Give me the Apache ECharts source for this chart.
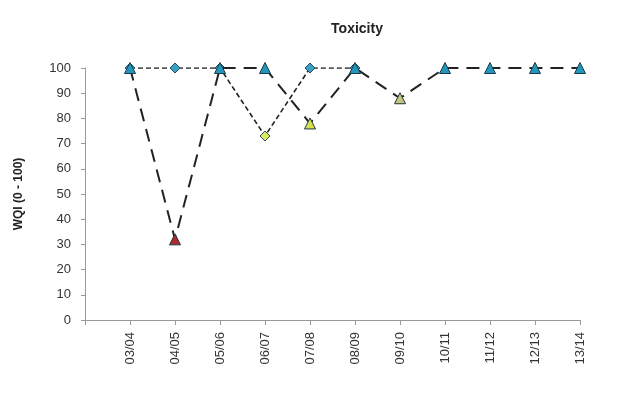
<!DOCTYPE html>
<html><head><meta charset="utf-8">
<script src="https://cdn.jsdelivr.net/npm/echarts@6/dist/echarts.min.js"></script>
<style>html,body{margin:0;padding:0;background:#fff}#c{width:637px;height:402px}</style>
</head><body><div id="c"></div>
<script>
const categories = ['03/04','04/05','05/06','06/07','07/08','08/09','09/10','10/11','11/12','12/13','13/14'];
const diamondValues = [100, 100, 100, 73, 100, 100, null, null, null, null, null];
const diamondColors = ['#3aa0c4','#3aa0c4','#3aa0c4','#dde85a','#3aa0c4','#3aa0c4',null,null,null,null,null];
const triangleValues = [100, 32, 100, 100, 78, 100, 88, 100, 100, 100, 100];
const triangleColors = ['#2596bb','#b02a2a','#2596bb','#2596bb','#d6e04e','#2596bb','#c6c67a','#2596bb','#2596bb','#2596bb','#2596bb'];
const yTicks = [0,10,20,30,40,50,60,70,80,90,100];

function pts(vals, cols){
  return vals.map((v,i)=> v==null ? null : {value:[i+1, v], itemStyle:{color:cols[i]}}).filter(d=>d);
}
const chart = echarts.init(document.getElementById('c'));
chart.setOption({
  animation:false,
  title:{text:'Toxicity', left:352, top:17, textAlign:'center',
    textStyle:{fontFamily:'Liberation Sans, Arial', fontSize:14, fontWeight:'bold', color:'#222'}},
  grid:{left:85, right:57, top:68, bottom:82},
  xAxis:{type:'value', min:0, max:11, interval:1,
    axisLine:{lineStyle:{color:'#999'}}, axisTick:{show:true, length:5, lineStyle:{color:'#999'}},
    splitLine:{show:false},
    axisLabel:{rotate:90, margin:12, fontFamily:'Liberation Sans', fontSize:13, color:'#333',
      formatter:v=> categories[v-1] || ''}},
  yAxis:{type:'value', min:0, max:100, interval:10,
    name:'WQI (0 - 100)', nameLocation:'middle', nameGap:60, nameRotate:90,
    nameTextStyle:{fontFamily:'Liberation Sans, Arial', fontSize:12, fontWeight:'bold', color:'#222'},
    axisLine:{show:true, lineStyle:{color:'#999'}}, axisTick:{show:true, inside:false, length:4, lineStyle:{color:'#999'}},
    splitLine:{show:false},
    axisLabel:{fontFamily:'Liberation Sans', fontSize:13, color:'#333', margin:14, formatter:v=>yTicks.includes(v)?String(v):''}},
  series:[
    {type:'line', data:pts(diamondValues, diamondColors), symbol:'diamond', symbolSize:10,
      lineStyle:{color:'#222', width:1.6, type:[5,3]},
      itemStyle:{borderColor:'#1d4f66', borderWidth:1}, z:2},
    {type:'line', data:pts(triangleValues, triangleColors), symbol:'triangle', symbolSize:11,
      lineStyle:{color:'#222', width:2, type:[13,8]},
      itemStyle:{borderColor:'#1a3a48', borderWidth:1}, z:3}
  ]
});
</script></body></html>
